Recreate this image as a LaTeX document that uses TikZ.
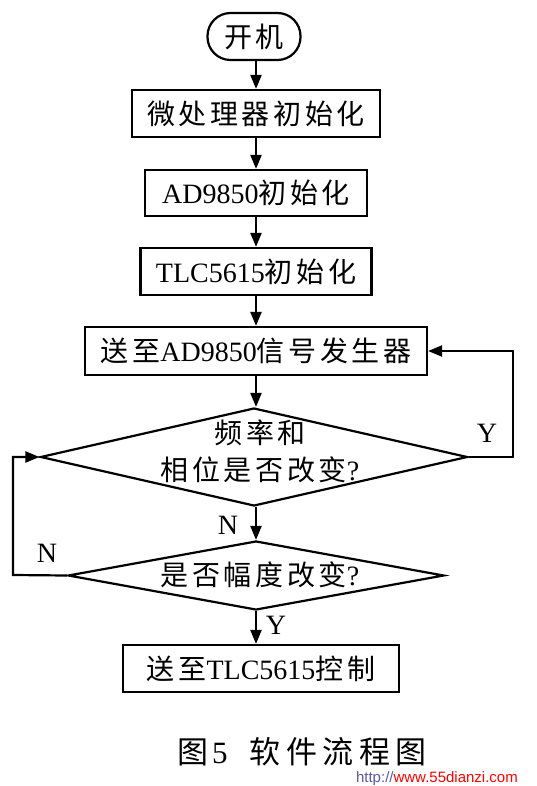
\documentclass[tikz,border=0pt]{standalone}
\usepackage{fontspec}
\setmainfont{Liberation Serif}
\newfontfamily\cjk{Noto Sans CJK SC}[LetterSpace=13]
\newfontfamily\cjkcap{Noto Sans CJK SC}[LetterSpace=18]
\newfontfamily\wmfont{Liberation Sans}
\usetikzlibrary{shapes.geometric,arrows.meta}
\tikzset{
  every node/.style={font=\fontsize{28}{34}\selectfont},
  procbox/.style={draw, line width=2.2pt, rectangle, inner sep=0pt, align=center},
  termbox/.style={draw, line width=2.2pt, rectangle, rounded corners=23pt, inner sep=0pt, minimum width=93pt, minimum height=47pt},
  decbox/.style={draw, line width=2.2pt, diamond, inner sep=0pt},
  flow/.style={line width=2.2pt, -{Triangle[length=14pt,width=11pt]}},
  lbl/.style={inner sep=0pt, font=\fontsize{28}{34}\selectfont},
}
\begin{document}
\begin{tikzpicture}[x=1pt,y=-1pt]
\useasboundingbox[fill=white] (0,0) rectangle (536,786);
\node[termbox] (start) at (254,36.5) {\cjk 开机};
\node[procbox, minimum width=248pt, minimum height=47pt] (b1) at (256,113.5) {\cjk 微处理器初始化};
\node[procbox, minimum width=222pt, minimum height=46pt] (b2) at (256,193) {AD9850{\cjk 初始化}};
\node[procbox, minimum width=231pt, minimum height=47pt] (b3) at (256,271.5) {TLC5615{\cjk 初始化}};
\node[procbox, minimum width=342pt, minimum height=48pt] (b4) at (256,351) {{\cjk 送至}AD9850{\cjk 信号发生器}};
\node[decbox, minimum width=427pt, minimum height=98pt] (d1) at (254,457) {};
\node[align=center, inner sep=0pt, font=\fontsize{28}{37}\selectfont] (t1) at (260,451) {{\cjk 频率和}\\{\cjk 相位是否改变}?};
\node[decbox, minimum width=376pt, minimum height=69pt] (d2) at (256,575.5) {};
\node[inner sep=0pt] (t2) at (260,575) {{\cjk 是否幅度改变}?};
\node[procbox, minimum width=276pt, minimum height=47pt] (b5) at (261,668.5) {{\cjk 送至}TLC5615{\cjk 控制}};

\coordinate (yr) at (513,457);
\coordinate (nl) at (13,575);

\draw[flow] (start.south -| 256,0) -- (b1.north -| 256,0);
\draw[flow] (b1.south) -- (b2.north);
\draw[flow] (b2.south) -- (b3.north);
\draw[flow] (b3.south) -- (b4.north);
\draw[flow] (b4.south) -- (b4.south |- d1.north);
\draw[flow] (d2.south) -- (d2.south |- b5.north);
\draw[flow] (d1.south -| d2.north) -- (d2.north);
\draw[flow] (d1.east) -- (yr) |- (b4.east);
\draw[flow] (d2.west) -- (nl) |- (d1.west);

\node[lbl] (ly1) at (487,433) {Y};
\node[lbl] (ln1) at (228,525) {N};
\node[lbl] (ln2) at (47,553) {N};
\node[lbl] (ly2) at (276,625) {Y};

\node[inner sep=0pt, font=\fontsize{31}{36}\selectfont] (cap) at (302,752) {{\cjkcap 图}\hspace{4pt}5\hspace{22pt}{\cjkcap 软件流程图}};
\node[inner sep=0pt, anchor=east, font=\wmfont\fontsize{15}{18}\selectfont] (wm) at (518,779) {\textcolor{gray!70!blue}{http://}\textcolor{red}{www.55dianzi.com}};
\end{tikzpicture}
\end{document}
